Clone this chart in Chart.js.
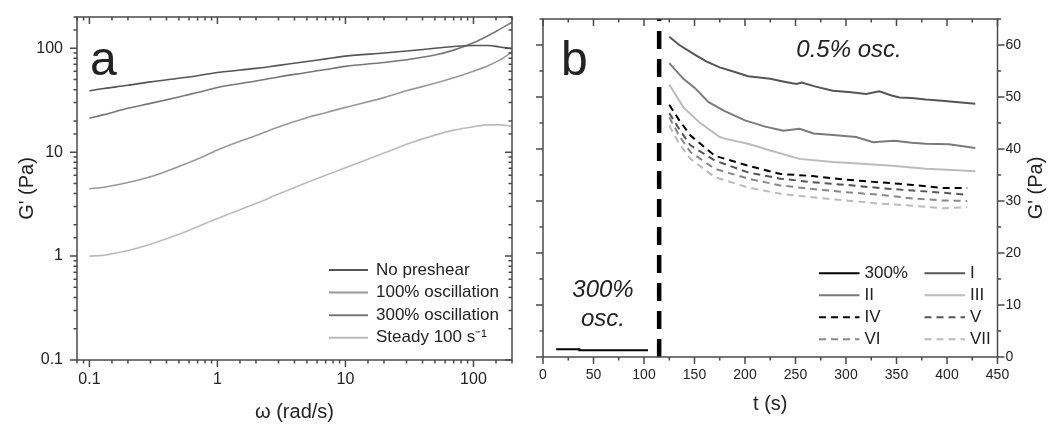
<!DOCTYPE html>
<html>
<head>
<meta charset="utf-8">
<script src="https://cdn.jsdelivr.net/npm/chart.js@4.4.1/dist/chart.umd.min.js"></script>
<style>
  html, body { margin: 0; padding: 0; background: #fff; }
  #wrap { display: flex; width: 1056px; height: 424px; }
  .panel { position: relative; width: 528px; height: 424px; }
</style>
</head>
<body>
<div id="wrap">
  <div class="panel"><canvas id="chartA"></canvas></div>
  <div class="panel"><canvas id="chartB"></canvas></div>
</div>
<script>
// ---- panel a: G' vs omega after different preshear ----
const omega = [0.1, 0.13, 0.2, 0.3, 0.5, 0.7, 1, 2, 3, 5, 7, 10, 20, 30, 50, 70, 100, 130, 160, 200];
const gNoPreshear = [39, 41, 44, 47.5, 51.5, 54.5, 58.5, 64, 68.5, 74.5, 79, 84, 90, 94, 100, 104, 106.5, 106.5, 103, 99];
const g100Osc = [4.45, 4.6, 5.1, 5.8, 7.3, 8.6, 10.5, 14.5, 17.5, 21.5, 24, 27, 33.5, 39, 46, 52, 60, 68, 77, 92];
const g300Osc = [21.3, 23, 26.5, 29.5, 34, 37.5, 42, 48.5, 53, 58.5, 62.5, 67, 73, 77.5, 86, 96, 113, 132, 152, 178];
const gSteady = [1.0, 1.02, 1.13, 1.3, 1.62, 1.92, 2.3, 3.2, 3.95, 5.1, 6.0, 7.1, 9.8, 11.9, 14.6, 16.3, 17.6, 18.3, 18.3, 17.7];

// ---- panel b: G' recovery at 0.5% after 300% oscillation ----
const t300 = [13, 36, 36, 104];
const g300 = [1.5, 1.5, 1.3, 1.3];
const markerT = 115;
const markerG = [0, 65];

const tI = [125, 135, 149, 162, 175, 190, 203, 225, 240, 251, 256, 270, 287, 305, 320, 333, 345, 353, 365, 379, 395, 406, 428];
const gI = [61.6, 60.0, 58.3, 56.8, 55.7, 54.8, 54.0, 53.5, 52.9, 52.5, 52.8, 52.0, 51.2, 50.9, 50.6, 51.1, 50.3, 49.9, 49.8, 49.5, 49.3, 49.1, 48.7];
const tII = [125, 139, 150, 164, 180, 200, 220, 238, 254, 268, 287, 310, 327, 340, 348, 365, 379, 402, 428];
const gII = [56.5, 53.5, 51.8, 49.0, 47.3, 45.5, 44.3, 43.5, 43.9, 43.0, 42.7, 42.3, 41.3, 41.5, 41.6, 41.2, 41.0, 40.9, 40.2];
const tIII = [125, 139, 155, 175, 182, 203, 225, 254, 287, 320, 346, 379, 400, 428];
const gIII = [52.4, 48.0, 45.1, 42.3, 41.9, 41.0, 39.7, 38.1, 37.5, 37.1, 36.8, 36.2, 36.0, 35.7];
const tDash = [125, 135, 146, 170, 203, 235, 267, 300, 333, 366, 396, 420];
const gIV = [48.5, 45.5, 42.6, 38.7, 36.8, 35.2, 34.8, 34.1, 33.6, 33.1, 32.5, 32.5];
const gV = [46.9, 43.8, 40.7, 37.8, 35.5, 34.3, 33.6, 33.1, 32.5, 32.0, 31.6, 31.2];
const gVI = [46.1, 42.5, 39.4, 36.2, 34.3, 33.0, 32.3, 31.7, 31.2, 30.5, 30.1, 30.0];
const gVII = [44.5, 41.0, 38.1, 34.6, 32.6, 31.4, 30.7, 30.1, 29.5, 29.1, 28.6, 28.8];

const FONT = "'Liberation Sans', Arial, sans-serif";
const TEXT = '#222';
const AXIS = '#4a4a4a';

const pts = (xs, ys) => xs.map((x, i) => ({ x, y: ys[i] }));

function isDecade(v) {
  const l = Math.log10(v);
  return Math.abs(l - Math.round(l)) < 1e-9;
}

// box frame plus major/minor ticks on all four sides
function framePlugin(sides) {
  return {
    id: 'frame',
    afterDatasetsDraw(chart) {
      const { ctx, chartArea: a } = chart;
      const xs = chart.scales.x, ys = chart.scales.y;
      const major = 7, minor = 3.5;
      ctx.save();
      ctx.strokeStyle = AXIS;
      ctx.lineWidth = 1.5;
      ctx.strokeRect(a.left, a.top, a.right - a.left, a.bottom - a.top);
      ctx.beginPath();
      xs.ticks.forEach(t => {
        const px = xs.getPixelForValue(t.value);
        if (px < a.left - 0.5 || px > a.right + 0.5) return;
        const len = t.label ? major : minor;
        ctx.moveTo(px, a.bottom); ctx.lineTo(px, a.bottom + (sides.bottom === 'out' ? len : -len));
        ctx.moveTo(px, a.top); ctx.lineTo(px, a.top + (sides.top === 'out' ? -len : len));
      });
      ys.ticks.forEach(t => {
        const py = ys.getPixelForValue(t.value);
        if (py < a.top - 0.5 || py > a.bottom + 0.5) return;
        const len = t.label ? major : minor;
        ctx.moveTo(a.left, py); ctx.lineTo(a.left + (sides.left === 'out' ? -len : len), py);
        ctx.moveTo(a.right, py); ctx.lineTo(a.right + (sides.right === 'out' ? len : -len), py);
      });
      ctx.stroke();
      ctx.restore();
    }
  };
}

// legend drawn inside the plot from the dataset labels/styles
function legendPlugin(o) {
  return {
    id: 'inlineLegend',
    afterDraw(chart) {
      const ctx = chart.ctx;
      const items = chart.data.datasets.filter(d => d.label);
      ctx.save();
      ctx.font = '17px ' + FONT;
      ctx.textBaseline = 'middle';
      items.forEach((d, i) => {
        const x = o.x + (i % o.cols) * o.colW;
        const y = o.y + Math.floor(i / o.cols) * o.rowH;
        ctx.strokeStyle = d.borderColor;
        ctx.lineWidth = 2;
        ctx.setLineDash(d.borderDash || []);
        ctx.beginPath();
        ctx.moveTo(x, y);
        ctx.lineTo(x + o.lineLen, y);
        ctx.stroke();
        ctx.setLineDash([]);
        ctx.fillStyle = TEXT;
        ctx.fillText(d.label, x + o.lineLen + o.gap, y);
      });
      ctx.restore();
    }
  };
}

// free text: panel letters and annotations
function textPlugin(items) {
  return {
    id: 'notes',
    afterDraw(chart) {
      const ctx = chart.ctx;
      ctx.save();
      ctx.fillStyle = TEXT;
      items.forEach(it => {
        ctx.save();
        ctx.font = it.font;
        ctx.textAlign = it.align || 'left';
        ctx.textBaseline = it.baseline || 'alphabetic';
        ctx.translate(it.x, it.y);
        if (it.rotate) ctx.rotate(it.rotate);
        ctx.fillText(it.text, 0, 0);
        ctx.restore();
      });
      ctx.restore();
    }
  };
}

const baseOptions = {
  responsive: true,
  maintainAspectRatio: false,
  animation: false,
  events: [],
  elements: { point: { radius: 0 } },
  plugins: { legend: { display: false }, tooltip: { enabled: false } }
};

// ---------- chart a ----------
new Chart(document.getElementById('chartA'), {
  type: 'line',
  data: {
    datasets: [
      { label: 'No preshear', data: pts(omega, gNoPreshear), borderColor: '#555', borderWidth: 1.6 },
      { label: '100% oscillation', data: pts(omega, g100Osc), borderColor: '#999', borderWidth: 1.6 },
      { label: '300% oscillation', data: pts(omega, g300Osc), borderColor: '#777', borderWidth: 1.6 },
      { label: 'Steady 100 s\u207B\u00B9', data: pts(omega, gSteady), borderColor: '#bbb', borderWidth: 1.6 }
    ]
  },
  options: {
    ...baseOptions,
    elements: { point: { radius: 0 }, line: { cubicInterpolationMode: 'monotone' } },
    layout: { padding: { top: 17, right: 16, left: 0, bottom: 0 } },
    scales: {
      x: {
        type: 'logarithmic', min: 0.08, max: 200,
        grid: { display: false, drawTicks: false }, border: { display: false },
        ticks: {
          autoSkip: false, maxRotation: 0, padding: 10,
          font: { family: FONT, size: 16 }, color: TEXT,
          callback: v => isDecade(v) ? String(v) : ''
        },
        title: { display: true, text: '\u03C9 (rad/s)', font: { family: FONT, size: 20 }, color: TEXT, padding: { top: 0, bottom: 0 } },
        afterFit: s => { s.height = 64; }
      },
      y: {
        type: 'logarithmic', min: 0.1, max: 200,
        grid: { display: false, drawTicks: false }, border: { display: false },
        ticks: {
          autoSkip: false, padding: 14,
          font: { family: FONT, size: 16 }, color: TEXT,
          callback: v => isDecade(v) ? String(v) : ''
        },
        title: { display: true, text: "G' (Pa)", font: { family: FONT, size: 20 }, color: TEXT, padding: { top: 15, bottom: 0 } },
        // label padding would otherwise push the plot top down
        afterFit: s => { s.width = 77; s.paddingTop = 0; s.paddingBottom = 0; }
      }
    }
  },
  plugins: [
    framePlugin({ bottom: 'out', left: 'out', top: 'in', right: 'in' }),
    legendPlugin({ x: 329, y: 270, rowH: 22.6, cols: 1, colW: 0, lineLen: 39, gap: 8 }),
    textPlugin([{ text: 'a', x: 90, y: 75, font: '48px ' + FONT }])
  ]
});

// ---------- chart b ----------
const dash = [7, 5];
new Chart(document.getElementById('chartB'), {
  type: 'line',
  data: {
    datasets: [
      { label: '300%', data: pts(t300, g300), borderColor: '#000', borderWidth: 2 },
      { label: 'I', data: pts(tI, gI), borderColor: '#555', borderWidth: 2 },
      { label: 'II', data: pts(tII, gII), borderColor: '#7a7a7a', borderWidth: 2 },
      { label: 'III', data: pts(tIII, gIII), borderColor: '#bbb', borderWidth: 2 },
      { label: 'IV', data: pts(tDash, gIV), borderColor: '#000', borderWidth: 2, borderDash: dash },
      { label: 'V', data: pts(tDash, gV), borderColor: '#555', borderWidth: 2, borderDash: dash },
      { label: 'VI', data: pts(tDash, gVI), borderColor: '#888', borderWidth: 2, borderDash: dash },
      { label: 'VII', data: pts(tDash, gVII), borderColor: '#bbb', borderWidth: 2, borderDash: dash },
      { label: '', data: pts([markerT, markerT], markerG), borderColor: '#000', borderWidth: 4.5, borderDash: [18, 10], clip: false }
    ]
  },
  options: {
    ...baseOptions,
    layout: { padding: { top: 19, right: 0, left: 15, bottom: 0 } },
    scales: {
      x: {
        type: 'linear', min: 0, max: 450,
        grid: { display: false, drawTicks: false }, border: { display: false },
        ticks: {
          stepSize: 25, autoSkip: false, maxRotation: 0, padding: 10,
          font: { family: FONT, size: 14 }, color: TEXT,
          callback: v => v % 50 === 0 ? String(v) : ''
        },
        title: { display: true, text: 't (s)', font: { family: FONT, size: 20 }, color: TEXT, padding: { top: 0, bottom: 8 } },
        afterFit: s => { s.height = 67; }
      },
      y: {
        type: 'linear', position: 'right', min: 0, max: 65,
        grid: { display: false, drawTicks: false }, border: { display: false },
        ticks: {
          stepSize: 5, autoSkip: false, padding: 8,
          font: { family: FONT, size: 14 }, color: TEXT,
          callback: v => v % 10 === 0 ? String(v) : ''
        },
        afterFit: s => { s.width = 58.5; s.paddingTop = 0; s.paddingBottom = 0; }
      }
    }
  },
  plugins: [
    framePlugin({ bottom: 'out', left: 'out', top: 'in', right: 'out' }),
    legendPlugin({ x: 291, y: 273.3, rowH: 22, cols: 2, colW: 105.5, lineLen: 40.5, gap: 5 }),
    textPlugin([
      { text: 'b', x: 33, y: 75, font: '48px ' + FONT },
      { text: '0.5% osc.', x: 321, y: 57, align: 'center', font: 'italic 24px ' + FONT },
      { text: '300%', x: 75, y: 297, align: 'center', font: 'italic 24px ' + FONT },
      { text: 'osc.', x: 75, y: 326, align: 'center', font: 'italic 24px ' + FONT },
      { text: "G' (Pa)", x: 508, y: 188, align: 'center', baseline: 'middle', rotate: -Math.PI / 2, font: '20px ' + FONT }
    ])
  ]
});
</script>
</body>
</html>
